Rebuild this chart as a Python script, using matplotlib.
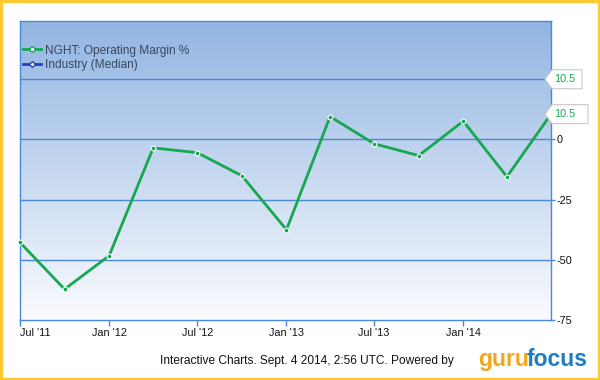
import matplotlib
matplotlib.use("Agg")
import matplotlib.pyplot as plt
import matplotlib.dates as mdates
import matplotlib.patches as mpatches
from matplotlib.lines import Line2D
from matplotlib.transforms import IdentityTransform
import numpy as np
import pandas as pd

# Data (quarterly, NGHT operating margin %)
dates = pd.date_range("2011-07-01", periods=13, freq="QS-JAN")
margin = [-42.8, -62.2, -48.3, -3.5, -5.5, -15.1, -37.5, 9.5, -1.8, -6.7, 7.6, -15.5, 10.5]

ytick_vals = [0, -25, -50, -75]
grid_vals = [25, 0, -25, -50]
xtick_dates = pd.to_datetime(["2011-07-01", "2012-01-01", "2012-07-01",
                              "2013-01-01", "2013-07-01", "2014-01-01"])
xtick_labels = ["Jul '11", "Jan '12", "Jul '12", "Jan '13", "Jul '13", "Jan '14"]
flag_vals = [25, 10.5]
flag_texts = ["10.5", "10.5"]

COLORS = {
    'line': '#16a850',
    'industry': '#2a3fbf',
    'grid': '#4a88d8',
    'frame': '#ffc933',
    'text': '#3a4760',
    'guru': '#f2a71b',
    'focus': '#1f7cc4',
}

plt.rcParams['font.family'] = ['Liberation Sans', 'DejaVu Sans']

fig = plt.figure(figsize=(6, 3.8), dpi=100, facecolor='white')
H = 380
ax = fig.add_axes([20 / 600, 1 - 320 / 380, 531 / 600, 299 / 380])

ymin, ymax = -75, 49.2
xmin, xmax = mdates.date2num(dates[0]), mdates.date2num(dates[-1])

# background gradient
grad = np.linspace(0, 1, 256).reshape(-1, 1)
top = np.array([0x92, 0xb5, 0xe2]) / 255
bot = np.array([0xfa, 0xfb, 0xfe]) / 255
img = top + (bot - top) * grad[..., None]
ax.imshow(img, extent=[xmin, xmax, ymin, ymax], aspect='auto', zorder=0,
          origin='upper', interpolation='bilinear')

for g in grid_vals:
    ax.axhline(g, color=COLORS['grid'], lw=1, zorder=1)

ax.plot(mdates.date2num(dates), margin, color=COLORS['line'], lw=2.0, zorder=3,
        marker='o', markersize=3.5, markerfacecolor=COLORS['line'],
        markeredgecolor='white', markeredgewidth=0.8, clip_on=False)

ax.set_xlim(xmin, xmax)
ax.set_ylim(ymin, ymax)

for s in ax.spines.values():
    s.set_color(COLORS['grid'])
    s.set_linewidth(1)

ax.yaxis.tick_right()
ax.set_yticks(ytick_vals)
ax.set_yticklabels([str(v) for v in ytick_vals])
ax.tick_params(axis='y', length=3, width=1, color=COLORS['grid'], pad=1,
               labelsize=7.8, labelcolor='#111111')
ax.set_xticks(mdates.date2num(xtick_dates))
ax.set_xticklabels(xtick_labels)
ax.tick_params(axis='x', length=4, width=1, color=COLORS['grid'], pad=2,
               labelsize=7.8, labelcolor='#111111')
ax.get_xticklabels()[0].set_horizontalalignment('left')

# value flags on the right (pentagon tags pointing left)
for v, t, w in zip(flag_vals, flag_texts, [31, 37]):
    px, py = ax.transData.transform((xmax, v))
    poly = [(px - 6, py), (px + 1, py + 9.5), (px + w, py + 9.5),
            (px + w, py - 9.5), (px + 1, py - 9.5)]
    fig.patches.append(mpatches.Polygon(poly, closed=True, transform=IdentityTransform(),
                                        fc='white', ec='#c8c8c8', lw=0.8, zorder=5))
    fig.text((px + 3) / 600, py / H, t, fontsize=7.8, color=COLORS['line'],
             ha='left', va='center', zorder=6)

# legend
handles = [
    Line2D([], [], color=COLORS['line'], lw=2, marker='o', markersize=3.5,
           markerfacecolor='white', markeredgecolor=COLORS['line']),
    Line2D([], [], color=COLORS['industry'], lw=2, marker='D', markersize=3,
           markerfacecolor='white', markeredgecolor=COLORS['industry']),
]
leg = ax.legend(handles, ["NGHT: Operating Margin %", "Industry (Median)"],
                loc='upper left', bbox_to_anchor=(0.005, 0.921), frameon=False,
                fontsize=8.6, handlelength=1.5, handletextpad=0.35,
                labelspacing=0.22, borderaxespad=0, borderpad=0)
for t in leg.get_texts():
    t.set_color(COLORS['text'])

# footer
fig.text(160 / 600, 1 - 361 / 380, "Interactive Charts. Sept. 4 2014, 2:56 UTC. Powered by",
         fontsize=8.6, color='#111111', va='center', ha='left')
fig.text(478 / 600, 1 - 366 / 380, "guru", fontsize=16.5, color=COLORS['guru'],
         va='baseline', ha='left', fontweight='bold')
fig.text(527 / 600, 1 - 366 / 380, "focus", fontsize=16.5, color=COLORS['focus'],
         va='baseline', ha='left', fontweight='bold')

# outer yellow frame
fig.patches.append(mpatches.Rectangle((0.002, 0.003), 0.996, 0.994, transform=fig.transFigure,
                                      fill=False, ec=COLORS['frame'], lw=2.5))

fig.savefig("out.png", dpi=100, facecolor='white')
